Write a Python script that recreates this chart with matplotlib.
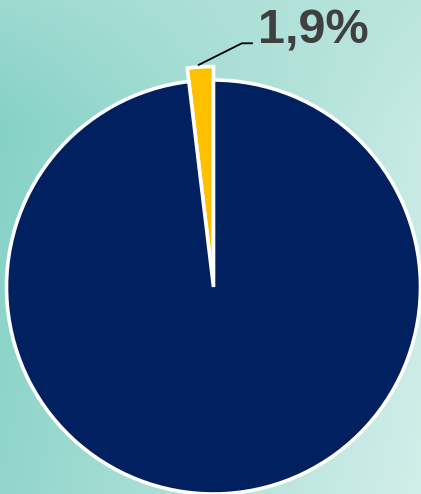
import numpy as np
import matplotlib
matplotlib.use("Agg")
import matplotlib.pyplot as plt

# Data
categories = ["Destaque", "Restante"]
values = [1.9, 98.1]
labels = ["1,9%", ""]
colors = ["#FFC000", "#002060"]

W, H, DPI = 421, 494, 100
fig = plt.figure(figsize=(W / DPI, H / DPI), dpi=DPI)

# background gradient (mint textured look)
bg = fig.add_axes([0, 0, 1, 1])
bg.set_axis_off()
yy, xx = np.mgrid[0:1:200j, 0:1:200j]
c_left = np.array([0x82, 0xD0, 0xC4]) / 255
c_right = np.array([0xD2, 0xEE, 0xE9]) / 255
c_top = np.array([0xB4, 0xE2, 0xDB]) / 255
t = np.clip(xx * 0.8 + yy * 0.2, 0, 1)[..., None]
img = c_left * (1 - t) + c_right * t
top_w = np.clip(1 - yy * 4, 0, 1)[..., None] * 0.55
img = img * (1 - top_w) + c_top * top_w
bg.imshow(img, extent=[0, 1, 0, 1], aspect="auto", origin="upper")
bg.set_xlim(0, 1)
bg.set_ylim(0, 1)

ax = fig.add_axes([0, 0, 1, 1])
ax.set_axis_off()
R = 207.0
cx, cy = 213.5, 287.0
wedges, _ = ax.pie(values, colors=colors, startangle=90, counterclock=True,
                   radius=1.0,
                   wedgeprops=dict(edgecolor="white", linewidth=2.6))
wedges[0].set_radius(1.065)
ax.set_xlim(-cx / R, (W - cx) / R)
ax.set_ylim(-(H - cy) / R, cy / R)
ax.set_aspect("equal")

# label with leader line
theta = np.deg2rad(90 + 360 * values[0] / sum(values) / 2)
r0 = 1.065
x0, y0 = r0 * np.cos(theta) - 0.012, r0 * np.sin(theta) + 0.008
xk, yk = x0 + 44 / R, y0 + 22 / R
xe = xk + 11 / R
ax.plot([x0, xk, xe], [y0, yk, yk], color="black", lw=1.3,
        solid_capstyle="butt")
ax.text(xe + 5 / R, yk, labels[0], fontsize=35, fontweight="bold",
        color="#404040", ha="left", va="baseline",
        family=["Liberation Sans", "DejaVu Sans"])

fig.savefig("out.png", dpi=DPI)
